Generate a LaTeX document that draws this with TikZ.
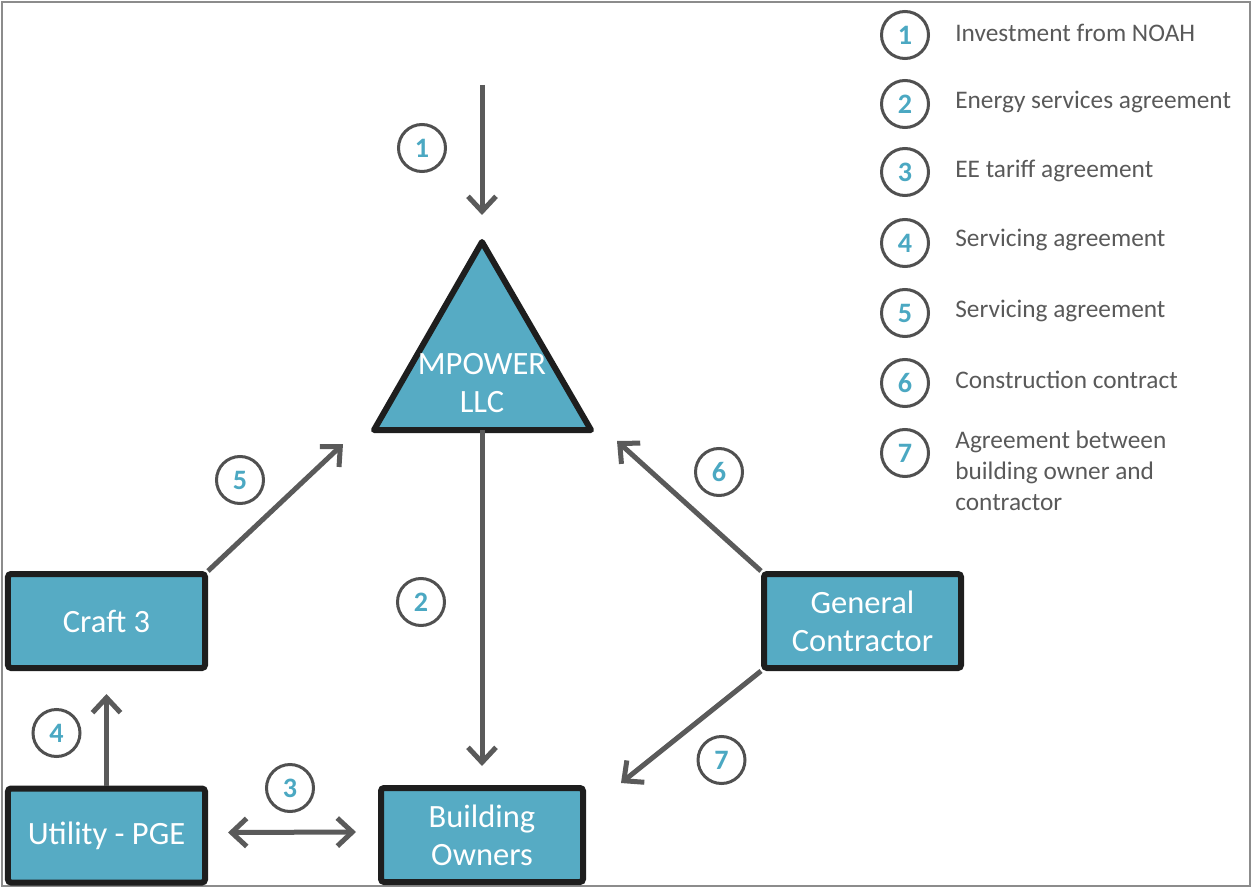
\documentclass[tikz,border=0pt]{standalone}
\usepackage{fontspec}
\setmainfont{Carlito}
\usetikzlibrary{arrows.meta}
\definecolor{boxfill}{HTML}{56ABC4}
\definecolor{boxline}{HTML}{1E1E1E}
\definecolor{flow}{HTML}{5A5A5A}
\definecolor{ringgray}{HTML}{505050}
\definecolor{numteal}{HTML}{4BA8C2}
\definecolor{legendtext}{HTML}{595959}
\definecolor{framegray}{HTML}{8C8C8C}
\begin{document}
\begin{tikzpicture}[x=0.2mm,y=-0.2mm,
  party/.style={draw=boxline, fill=boxfill, line width=1.2mm, rounded corners=0.6mm,
    text=white, font=\fontsize{18.5}{21.5}\selectfont, align=center, inner sep=0,
    minimum width=39.4mm, minimum height=18.8mm},
  tipbarb/.tip={Straight Barb[length=3mm,width=5.6mm]},
  flowarrow/.style={draw=flow, line width=1mm, -tipbarb},
  ring/.style={circle, draw=ringgray, line width=0.6mm, minimum size=9.4mm, inner sep=0,
    text=numteal, font=\fontsize{16}{16}\bfseries\selectfont},
  legendlabel/.style={anchor=west, inner sep=0, text=legendtext,
    font=\fontsize{14.4}{17.5}\selectfont, align=left}
]
% canvas and outer frame
\useasboundingbox (0,0) rectangle (1253,889);
\draw[framegray, line width=0.3mm] (2,2) rectangle (1250,886);

% MPOWER LLC triangle
\draw[boxline, fill=boxfill, line width=1.2mm, line join=round]
  (482,242) -- (374,430) -- (591,430) -- cycle;
\node[text=white, font=\fontsize{18.5}{21.5}\selectfont, align=center, inner sep=0]
  (mp) at (482,383) {MPOWER\\LLC};
\coordinate (mpbase) at (482,430);
\coordinate (top1) at (482,85);
\coordinate (tip1) at (482,215);
\coordinate (tip5) at (343,444);
\coordinate (tip6) at (617,441);

% parties
\node[party] (craft) at (106.5,621) {Craft 3};
\node[party] (util) at (106.5,835.5) {Utility - PGE};
\node[party, minimum width=40.4mm] (bo) at (482,835) {Building\\Owners};
\node[party] (gc) at (862.5,621) {General\\Contractor};

% flows between parties
\draw[flowarrow] (top1) -- (tip1);
\draw[flowarrow] (mpbase) -- ([yshift=3.8mm]bo.north);
\draw[flowarrow, tipbarb-tipbarb]
  ([xshift=4mm,yshift=0.6mm]util.east) -- ([xshift=-4.4mm,yshift=0.6mm]bo.west);
\draw[flowarrow] (util.north) -- ([yshift=-4.6mm]craft.south);
\draw[flowarrow] (craft.north east) -- (tip5);
\draw[flowarrow] (gc.north west) -- (tip6);
\draw[flowarrow] (gc.south west) -- ([xshift=7mm,yshift=0.4mm]bo.north east);

% numbered markers on the flows
\node[ring] (n1) at (422,148) {1};
\node[ring] (n2) at (421,602) {2};
\node[ring] (n3) at (290,788) {3};
\node[ring] (n4) at (56.5,733) {4};
\node[ring] (n5) at (240,480) {5};
\node[ring] (n6) at (719,472) {6};
\node[ring] (n7) at (721.5,760) {7};

% key
\node[ring] (k1) at (905,35) {1};
\node[ring] (k2) at (905,104) {2};
\node[ring] (k3) at (905,172) {3};
\node[ring] (k4) at (905,243) {4};
\node[ring] (k5) at (905,313) {5};
\node[ring] (k6) at (905,383) {6};
\node[ring] (k7) at (905,453) {7};
\node[legendlabel] (l1) at (955,33) {Investment from NOAH};
\node[legendlabel] (l2) at (955,102) {Energy services agreement};
\node[legendlabel] (l3) at (955,171) {EE tariff agreement};
\node[legendlabel] (l4) at (955,240) {Servicing agreement};
\node[legendlabel] (l5) at (955,311) {Servicing agreement};
\node[legendlabel] (l6) at (955,380) {Construction contract};
\node[legendlabel] (l7) at (955,471) {Agreement between\\building owner and\\contractor};
\end{tikzpicture}
\end{document}
